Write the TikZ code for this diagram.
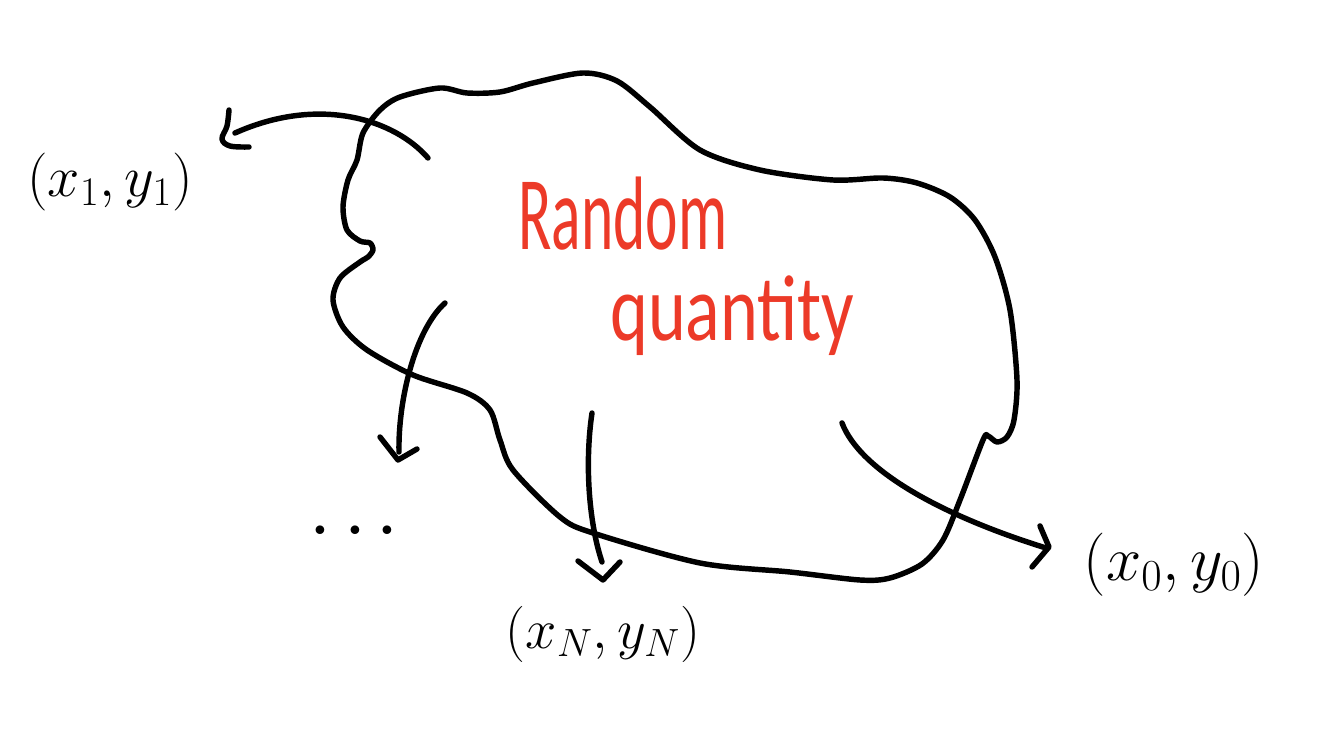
\RequirePackage{fix-cm}
\documentclass[tikz,border=0pt]{standalone}
\usepackage{fontspec}
\newfontfamily\handfont{Carlito}
\definecolor{inkred}{RGB}{236,58,40}
\tikzset{
  ink/.style={line width=3.1pt, line cap=round, line join=round, black},
  head/.style={ink},
  lbl/.style={inner sep=0pt},
  redtxt/.style={inner sep=0pt, text=inkred, anchor=base west}
}
\begin{document}
\begin{tikzpicture}[x=0.02cm, y=-0.02cm]
\useasboundingbox (0,0) rectangle (1328,732);
% blob
\draw[ink] plot[smooth cycle, tension=0.5] coordinates {
 (363,133) (380,110) (400,97) (440,88) (467,93) (500,92) (533,83) (583,73) (617,81) (650,107)
 (700,150) (760,170) (833,180) (883,178) (917,183) (950,197) (975,220) (995,257) (1010,310) (1017,380)
 (1014,420) (1007,437) (997,442) (988,436) (983,440) (960,500) (943,540) (922,564) (890,578) (860,580)
 (790,572) (700,563) (593,533) (560,517) (513,470) (500,440) (490,410) (467,393) (413,375)
 (367,350) (343,327) (333,300) (340,278) (360,262) (368,257) (373,250) (370,243) (360,241)
 (347,230) (343,207) (348,180) (357,160)};
% labels
\node[lbl, font=\fontsize{33}{36}\selectfont] (p1) at (110,182) {$(x_1,y_1)$};
\node[lbl, font=\fontsize{32}{36}\selectfont] (pN) at (603,634) {$(x_N,y_N)$};
\node[lbl, font=\fontsize{36}{40}\selectfont] (p0) at (1174,565) {$(x_0,y_0)$};
\node[lbl, font=\fontsize{22}{24}\selectfont] (dots) at (354,533) {\textbullet\hspace{4pt}\textbullet\hspace{2pt}\textbullet};
\node[redtxt, font=\handfont\fontsize{35}{40}\selectfont] (r1) at (518,250) {\scalebox{1}[1.7]{Random}};
\node[redtxt, font=\handfont\fontsize{41}{44}\selectfont] (r2) at (610,341) {\scalebox{1}[1.3]{quantity}};
% connector start/end points
\coordinate (s1) at (428,158);
\coordinate (e1) at (235,133);
\coordinate (s2) at (445,303);
\coordinate (e2) at (399,452);
\coordinate (s3) at (592,413);
\coordinate (e3) at (602,562);
\coordinate (s4) at (842,423);
\coordinate (e4) at (1046,548);
% connectors
\draw[ink] (s1) .. controls (395,120) and (320,95) .. (e1);
\draw[ink] (s2) .. controls (415,330) and (398,400) .. (e2);
\draw[ink] (s3) .. controls (585,460) and (588,520) .. (e3);
\draw[ink] (s4) .. controls (860,470) and (940,515) .. (e4);
% hand-drawn arrow heads
\draw[head] plot[smooth, tension=0.6] coordinates {(229,110) (227,126) (222,139) (230,146) (249,147)};
\draw[head] (380,437) -- (398,460) -- (417,449);
\draw[head] (578,561) -- (603,580) -- (620,562);
\draw[head] (1040,526) -- (1049,547) -- (1032,567);
\end{tikzpicture}
\end{document}
